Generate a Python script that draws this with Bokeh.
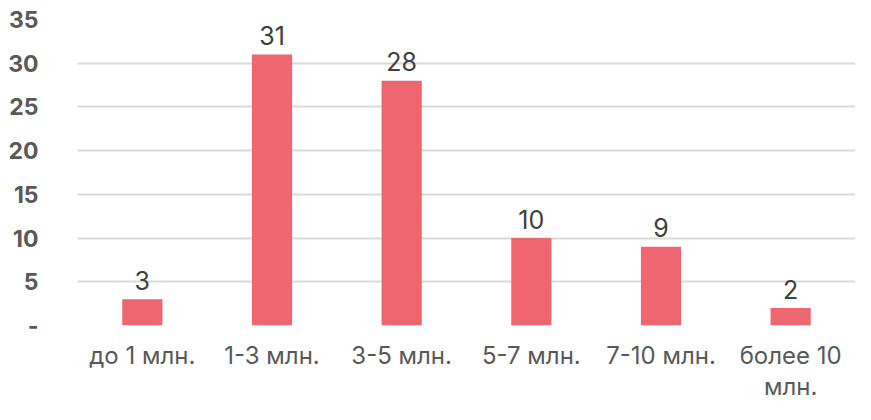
from bokeh.plotting import figure
from bokeh.models import FactorRange, Range1d, ColumnDataSource, FixedTicker
from bokeh.core.properties import value
from bokeh.embed import file_html
from bokeh.resources import INLINE

categories = ["до 1 млн.", "1-3 млн.", "3-5 млн.", "5-7 млн.", "7-10 млн.", "более 10\nмлн."]
counts = [3, 31, 28, 10, 9, 2]
y_ticks = [0, 5, 10, 15, 20, 25, 30, 35]
y_tick_labels = ["-", "5", "10", "15", "20", "25", "30", "35"]

FONT = "Inter"

src = ColumnDataSource(dict(cat=categories, val=counts, lbl=[str(v) for v in counts]))

p = figure(width=855, height=404, output_backend="svg", toolbar_location=None,
           x_range=FactorRange(*categories, range_padding=0), y_range=Range1d(0, 35),
           min_border_left=77, min_border_right=0, min_border_top=19, min_border_bottom=73)
p.outline_line_color = None
p.background_fill_color = "white"
p.border_fill_color = "white"

p.vbar(x="cat", top="val", width=0.31, source=src, fill_color="#EE6670", line_color=None)
p.text(x="cat", y="val", text="lbl", source=src, text_align="center", text_baseline="alphabetic",
       y_offset=-19, text_font=value(FONT), text_font_size="25px", text_color="#404040")

p.xgrid.grid_line_color = None
p.ygrid.grid_line_color = "#dadada"
p.ygrid.grid_line_width = 2
p.ygrid.ticker = FixedTicker(ticks=y_ticks)

p.yaxis.ticker = FixedTicker(ticks=y_ticks)
p.yaxis.major_label_overrides = {t: l for t, l in zip(y_ticks, y_tick_labels)}
p.yaxis.axis_line_color = None
p.yaxis.major_tick_line_color = None
p.yaxis.minor_tick_line_color = None
p.yaxis.major_label_standoff = 33
p.yaxis.major_label_text_font = FONT
p.yaxis.major_label_text_font_size = "23px"
p.yaxis.major_label_text_font_style = "bold"
p.yaxis.major_label_text_color = "#595959"

p.xaxis.axis_line_color = None
p.xaxis.major_tick_line_color = None
p.xaxis.major_tick_out = 0
p.xaxis.major_label_standoff = 15
p.xaxis.major_label_text_font = FONT
p.xaxis.major_label_text_font_size = "24px"
p.xaxis.major_label_text_line_height = 1.1
p.xaxis.major_label_text_color = "#595959"

open("out.html", "w").write(file_html(p, INLINE))
